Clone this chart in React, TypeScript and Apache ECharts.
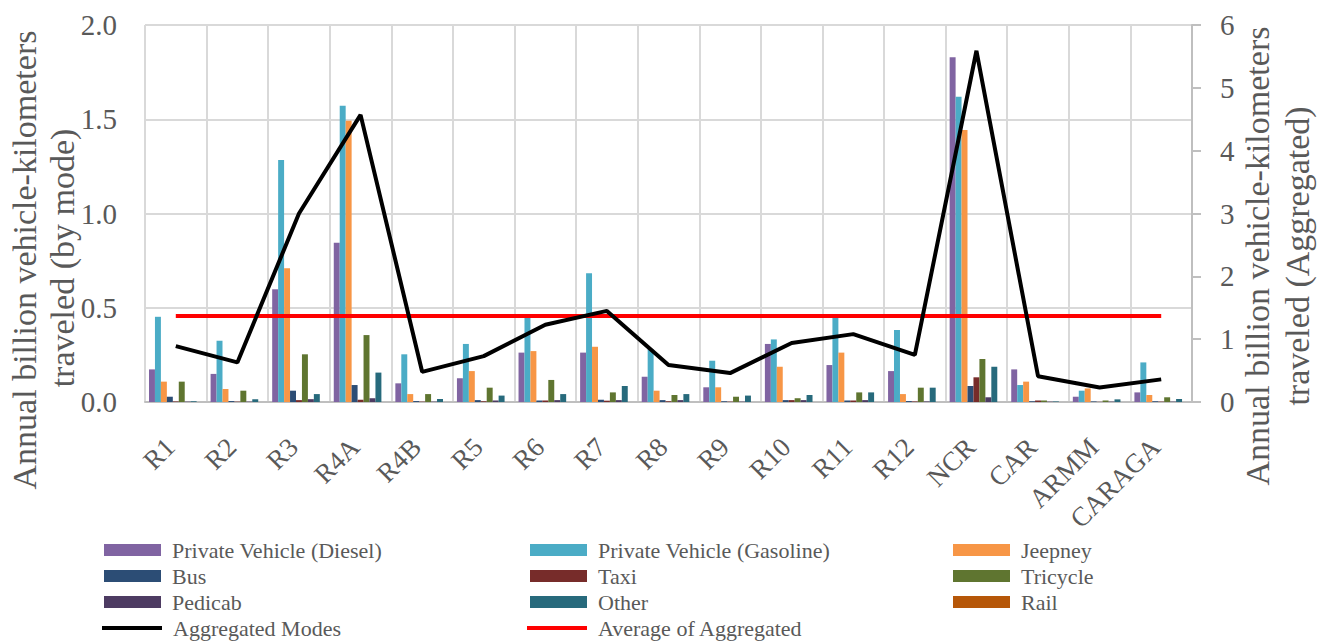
import React, { useEffect, useRef } from "react";
import * as echarts from "echarts";

const regions = ["R1", "R2", "R3", "R4A", "R4B", "R5", "R6", "R7", "R8", "R9", "R10", "R11", "R12", "NCR", "CAR", "ARMM", "CARAGA"];

const privateDiesel = [0.173, 0.149, 0.598, 0.845, 0.099, 0.126, 0.262, 0.262, 0.134, 0.078, 0.308, 0.196, 0.164, 1.829, 0.173, 0.028, 0.051];
const privateGasoline = [0.452, 0.325, 1.284, 1.572, 0.253, 0.308, 0.45, 0.683, 0.28, 0.219, 0.332, 0.45, 0.382, 1.62, 0.09, 0.06, 0.21];
const jeepney = [0.108, 0.069, 0.709, 1.492, 0.042, 0.164, 0.27, 0.293, 0.06, 0.078, 0.187, 0.262, 0.042, 1.443, 0.108, 0.072, 0.037];
const bus = [0.028, 0.005, 0.06, 0.09, 0.005, 0.01, 0.008, 0.012, 0.01, 0.004, 0.01, 0.008, 0.005, 0.085, 0.004, 0.003, 0.004];
const taxi = [0.003, 0.002, 0.01, 0.012, 0.002, 0.004, 0.008, 0.007, 0.004, 0.002, 0.01, 0.008, 0.003, 0.131, 0.008, 0.001, 0.002];
const tricycle = [0.108, 0.06, 0.253, 0.355, 0.042, 0.076, 0.117, 0.051, 0.037, 0.028, 0.02, 0.051, 0.076, 0.228, 0.008, 0.008, 0.025];
const pedicab = [0.002, 0.002, 0.015, 0.02, 0.002, 0.008, 0.01, 0.01, 0.01, 0.002, 0.01, 0.01, 0.003, 0.025, 0.002, 0.002, 0.002];
const other = [0.004, 0.014, 0.042, 0.156, 0.016, 0.034, 0.042, 0.085, 0.042, 0.034, 0.037, 0.051, 0.076, 0.187, 0.003, 0.014, 0.016];
const rail = [0, 0, 0, 0, 0, 0, 0, 0, 0, 0, 0, 0, 0, 0, 0, 0, 0];

const aggregatedModes = [0.89, 0.63, 3.0, 4.57, 0.48, 0.73, 1.23, 1.45, 0.59, 0.46, 0.94, 1.08, 0.75, 5.59, 0.41, 0.23, 0.36];
const averageOfAggregated = [1.37, 1.37, 1.37, 1.37, 1.37, 1.37, 1.37, 1.37, 1.37, 1.37, 1.37, 1.37, 1.37, 1.37, 1.37, 1.37, 1.37];

const leftTitle = ["Annual billion vehicle-kilometers", "traveled (by mode)"];
const rightTitle = ["Annual billion vehicle-kilometers", "traveled (Aggregated)"];

const FONT = "'Liberation Serif', 'Times New Roman', serif";
const TEXT = "#595959";
const GRID = "#D9D9D9";
const AXIS = "#BFBFBF";

const barSeries = [
  { name: "Private Vehicle (Diesel)", data: privateDiesel, color: "#8064A2" },
  { name: "Private Vehicle (Gasoline)", data: privateGasoline, color: "#4BACC6" },
  { name: "Jeepney", data: jeepney, color: "#F79646" },
  { name: "Bus", data: bus, color: "#2C4D75" },
  { name: "Taxi", data: taxi, color: "#772C2A" },
  { name: "Tricycle", data: tricycle, color: "#5F7530" },
  { name: "Pedicab", data: pedicab, color: "#4D3B62" },
  { name: "Other", data: other, color: "#276A7C" },
  { name: "Rail", data: rail, color: "#B65708" },
];

const legendText = {
  fontFamily: FONT,
  fontSize: 22,
  color: TEXT,
  lineHeight: 26,
  padding: [0, 0, 0, 6],
};

export default function App() {
  const ref = useRef<HTMLDivElement>(null);

  useEffect(() => {
    if (!ref.current) return;
    const chart = echarts.init(ref.current, undefined, { renderer: "svg" });
    const legendBase = {
      orient: "vertical" as const,
      itemWidth: 57,
      itemHeight: 12,
      itemGap: 0,
      padding: 0,
      height: 120,
      textStyle: legendText,
      selectedMode: false,
    };
    const lineLegendBase = { ...legendBase, itemWidth: 60, itemHeight: 4, height: 30 };
    const titleStyle = { fontFamily: FONT, fontSize: 34, fill: TEXT, textAlign: "center", textVerticalAlign: "middle" };
    chart.setOption({
      animation: false,
      backgroundColor: "#ffffff",
      textStyle: { fontFamily: FONT },
      grid: { left: 145, right: 135, top: 25, bottom: 240, containLabel: false },
      graphic: [
        { type: "text", x: 24, y: 260, rotation: Math.PI / 2, style: { ...titleStyle, text: leftTitle[0] } },
        { type: "text", x: 62, y: 258, rotation: Math.PI / 2, style: { ...titleStyle, text: leftTitle[1] } },
        { type: "text", x: 1257, y: 256, rotation: Math.PI / 2, style: { ...titleStyle, text: rightTitle[0] } },
        { type: "text", x: 1297, y: 256, rotation: Math.PI / 2, style: { ...titleStyle, text: rightTitle[1] } },
      ],
      legend: [
        {
          ...legendBase,
          left: 104,
          top: 537,
          data: [
            { name: "Private Vehicle (Diesel)", icon: "rect" },
            { name: "Bus", icon: "rect" },
            { name: "Pedicab", icon: "rect" },
          ],
        },
        {
          ...legendBase,
          left: 530,
          top: 537,
          data: [
            { name: "Private Vehicle (Gasoline)", icon: "rect" },
            { name: "Taxi", icon: "rect" },
            { name: "Other", icon: "rect" },
          ],
        },
        {
          ...legendBase,
          left: 953,
          top: 537,
          data: [
            { name: "Jeepney", icon: "rect" },
            { name: "Tricycle", icon: "rect" },
            { name: "Rail", icon: "rect" },
          ],
        },
        {
          ...lineLegendBase,
          left: 102,
          top: 615,
          data: [{ name: "Aggregated Modes", icon: "rect" }],
        },
        {
          ...lineLegendBase,
          left: 527,
          top: 615,
          data: [{ name: "Average of Aggregated", icon: "rect" }],
        },
      ],
      xAxis: {
        type: "category",
        data: regions,
        boundaryGap: true,
        axisLine: { show: true, lineStyle: { color: AXIS, width: 2 } },
        axisTick: { show: false },
        splitLine: { show: true, interval: 0, lineStyle: { color: GRID, width: 2 } },
        axisLabel: {
          interval: 0,
          rotate: 45,
          margin: 35,
          padding: [0, 8, 0, 0],
          fontFamily: FONT,
          fontSize: 27,
          color: TEXT,
        },
      },
      yAxis: [
        {
          type: "value",
          min: 0,
          max: 2,
          interval: 0.5,
          axisLine: { show: false },
          axisTick: { show: false },
          splitLine: { show: true, lineStyle: { color: GRID, width: 2 } },
          axisLabel: {
            margin: 28,
            fontFamily: FONT,
            fontSize: 29,
            color: TEXT,
            formatter: (v: number) => v.toFixed(1),
          },
        },
        {
          type: "value",
          min: 0,
          max: 6,
          interval: 1,
          position: "right",
          axisLine: { show: true, lineStyle: { color: AXIS, width: 2 } },
          axisTick: { show: true, length: 9, lineStyle: { color: AXIS, width: 2 } },
          splitLine: { show: false },
          axisLabel: {
            margin: 28,
            fontFamily: FONT,
            fontSize: 29,
            color: TEXT,
          },
        },
      ],
      series: [
        ...barSeries.map((s) => ({
          name: s.name,
          type: "bar",
          yAxisIndex: 0,
          data: s.data,
          itemStyle: { color: s.color },
          barGap: "0%",
          barCategoryGap: "13%",
          z: 2,
        })),
        {
          name: "Aggregated Modes",
          type: "line",
          yAxisIndex: 1,
          data: aggregatedModes,
          symbol: "none",
          lineStyle: { color: "#000000", width: 4 },
          itemStyle: { color: "#000000" },
          z: 5,
        },
        {
          name: "Average of Aggregated",
          type: "line",
          yAxisIndex: 1,
          data: averageOfAggregated,
          symbol: "none",
          lineStyle: { color: "#FF0000", width: 4 },
          itemStyle: { color: "#FF0000" },
          z: 4,
        },
      ],
    });
    return () => chart.dispose();
  }, []);

  return (
    <div
      ref={ref}
      style={{ position: "fixed", left: 0, top: 0, width: 1327, height: 642, background: "#fff" }}
    />
  );
}
